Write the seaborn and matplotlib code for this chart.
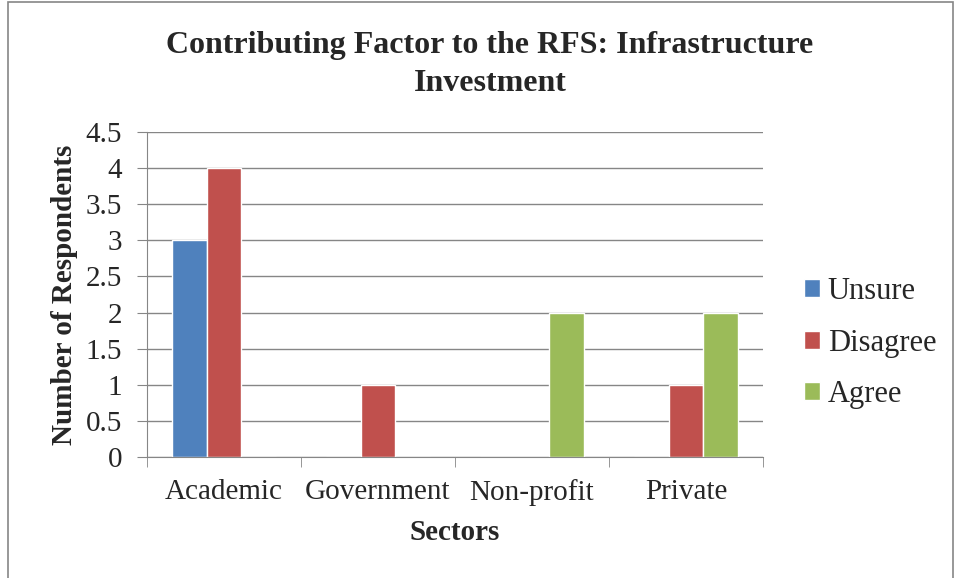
import pandas as pd
import seaborn as sns
import matplotlib.pyplot as plt
from matplotlib.patches import Rectangle

sectors = ['Academic', 'Government', 'Non-profit', 'Private']
responses = ['Unsure', 'Disagree', 'Agree']
unsure = [3, 0, 0, 0]
disagree = [4, 1, 0, 1]
agree = [0, 0, 2, 2]
colors = ['#4F81BD', '#C0504D', '#9BBB59']

df = pd.DataFrame({
    'Sector': sectors * 3,
    'Response': [r for r in responses for _ in sectors],
    'Count': unsure + disagree + agree,
})

sns.set_style('white')
plt.rcParams['font.family'] = ['Liberation Serif', 'DejaVu Serif']

fig = plt.figure(figsize=(9.58, 5.78), dpi=100)
ax = fig.add_axes([147 / 958, 1 - 457 / 578, (763 - 147) / 958, (457 - 132) / 578])
sns.barplot(data=df, x='Sector', y='Count', hue='Response', hue_order=responses,
            palette=colors, width=0.68, saturation=1, ax=ax)

ax.set_ylim(0, 4.5)
ax.set_xlim(-0.5, 3.5)
ax.set_yticks([0, 0.5, 1, 1.5, 2, 2.5, 3, 3.5, 4, 4.5])
ax.set_yticklabels(['0', '0.5', '1', '1.5', '2', '2.5', '3', '3.5', '4', '4.5'])
ax.yaxis.grid(True, color='#868686', linewidth=1)
ax.set_axisbelow(True)
for s in ['top', 'right']:
    ax.spines[s].set_visible(False)
ax.spines['left'].set_color('#868686')
ax.spines['bottom'].set_color('#868686')
ax.tick_params(axis='y', length=7, color='#868686', labelsize=21, pad=11, left=True)
ax.tick_params(axis='x', length=0, labelsize=21, pad=16)
ax.set_xticks([-0.5, 0.5, 1.5, 2.5, 3.5], minor=True)
ax.tick_params(axis='x', which='minor', length=7, color='#868686', bottom=True)

ax.set_xlabel('Sectors', fontsize=21, fontweight='bold')
ax.set_ylabel('Number of Respondents', fontsize=21, fontweight='bold')
ax.xaxis.set_label_coords(0.5, -0.19)
ax.yaxis.set_label_coords(-0.112, 0.5)
fig.suptitle('Contributing Factor to the RFS: Infrastructure\nInvestment',
             fontsize=23, fontweight='bold', x=490 / 958, y=1 - 31 / 578,
             linespacing=1.4)

ax.legend(loc='center left', bbox_to_anchor=(804 / 958, 1 - 343 / 578),
          bbox_transform=fig.transFigure, frameon=False,
          fontsize=22, handlelength=0.52, handleheight=0.52, labelspacing=0.74,
          handletextpad=0.26, borderaxespad=0, borderpad=0)

fig.patches.append(Rectangle((8 / 958, -0.01), 0.995 - 8 / 958, 1.007,
                             transform=fig.transFigure, fill=False,
                             edgecolor='#868686', linewidth=1.2))

fig.savefig('out.png', dpi=100)
